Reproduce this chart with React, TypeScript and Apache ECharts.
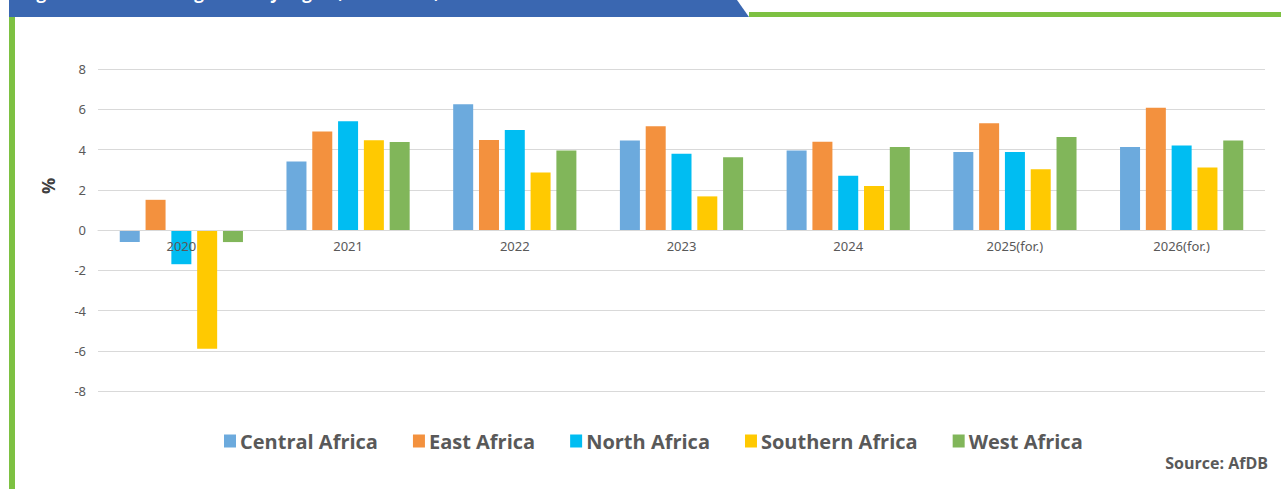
import React, { useEffect, useRef } from "react";
import * as echarts from "echarts";

const categories = ["2020", "2021", "2022", "2023", "2024", "2025(for.)", "2026(for.)"];
const seriesNames = ["Central Africa", "East Africa", "North Africa", "Southern Africa", "West Africa"];
const centralAfrica = [-0.6, 3.4, 6.25, 4.45, 3.95, 3.87, 4.12];
const eastAfrica = [1.5, 4.9, 4.47, 5.15, 4.39, 5.31, 6.07];
const northAfrica = [-1.7, 5.4, 4.97, 3.79, 2.69, 3.87, 4.2];
const southernAfrica = [-5.9, 4.46, 2.86, 1.67, 2.19, 3.02, 3.1];
const westAfrica = [-0.6, 4.37, 3.95, 3.62, 4.12, 4.62, 4.45];
const seriesColors = ["#6CAADD", "#F3913E", "#00BDF2", "#FFC901", "#81B65A"];
const yTicks = { min: -8, max: 8, interval: 2 };

export default function App() {
  const ref = useRef<HTMLDivElement>(null);
  useEffect(() => {
    document.body.style.margin = "0";
    const chart = echarts.init(ref.current!, null, { renderer: "svg" });
    const values = [centralAfrica, eastAfrica, northAfrica, southernAfrica, westAfrica];
    chart.setOption({
      animation: false,
      backgroundColor: "#ffffff",
      textStyle: { fontFamily: "Noto Sans" },
      grid: { left: 98, right: 16, top: 69, bottom: 98, containLabel: false },
      legend: {
        data: seriesNames,
        left: 224,
        top: 431,
        padding: 0,
        itemWidth: 12,
        itemHeight: 13,
        itemGap: 35,
        icon: "rect",
        textStyle: { fontFamily: "Open Sans", fontWeight: "bold", fontSize: 20, color: "#595959", padding: [0, 0, 0, -1] },
      },
      xAxis: {
        type: "category",
        data: categories,
        offset: -161,
        axisLine: { onZero: false, lineStyle: { color: "#D9D9D9", width: 1 } },
        axisTick: { show: false },
        axisLabel: { color: "#595959", fontSize: 13, margin: 9, fontFamily: "Noto Sans" },
        z: 5,
      },
      yAxis: {
        type: "value",
        min: yTicks.min,
        max: yTicks.max,
        interval: yTicks.interval,
        axisLine: { show: false },
        axisTick: { show: false },
        axisLabel: { color: "#595959", fontSize: 13, margin: 12, fontFamily: "Noto Sans" },
        splitLine: { lineStyle: { color: "#D9D9D9", width: 1 } },
      },
      series: seriesNames.map((name, i) => ({
        name,
        type: "bar",
        data: values[i],
        barWidth: 20,
        barGap: "29%",
        itemStyle: { color: seriesColors[i] },
        z: 2,
      })),
      graphic: [
        {
          type: "polygon",
          shape: { points: [[9, 0], [737, 0], [749, 17], [9, 17]] },
          style: { fill: "#3A67B1" },
          z: 10,
        },
        {
          type: "rect",
          shape: { x: 749, y: 12, width: 540, height: 5 },
          style: { fill: "#7DC142" },
          z: 10,
        },
        {
          type: "rect",
          shape: { x: 9, y: 17, width: 6, height: 480 },
          style: { fill: "#7DC142" },
          z: 10,
        },
        {
          type: "text",
          x: 22,
          y: -16,
          style: {
            text: "Figure 1.3: Real GDP growth by region, 2020–2026, %",
            fill: "#ffffff",
            font: "bold 17px 'Open Sans'",
          },
          z: 11,
        },
        {
          type: "text",
          x: 48,
          y: 186,
          rotation: Math.PI / 2,
          style: {
            text: "%",
            fill: "#404040",
            font: "bold 18px 'Open Sans'",
            align: "center",
            verticalAlign: "middle",
          },
          z: 11,
        },
        {
          type: "text",
          right: 13,
          top: 455,
          style: {
            text: "Source: AfDB",
            fill: "#595959",
            font: "bold 16px 'Open Sans'",
          },
          z: 11,
        },
      ],
    });
    return () => chart.dispose();
  }, []);
  return <div ref={ref} style={{ position: "absolute", left: 0, top: 0, width: 1281, height: 489 }} />;
}
